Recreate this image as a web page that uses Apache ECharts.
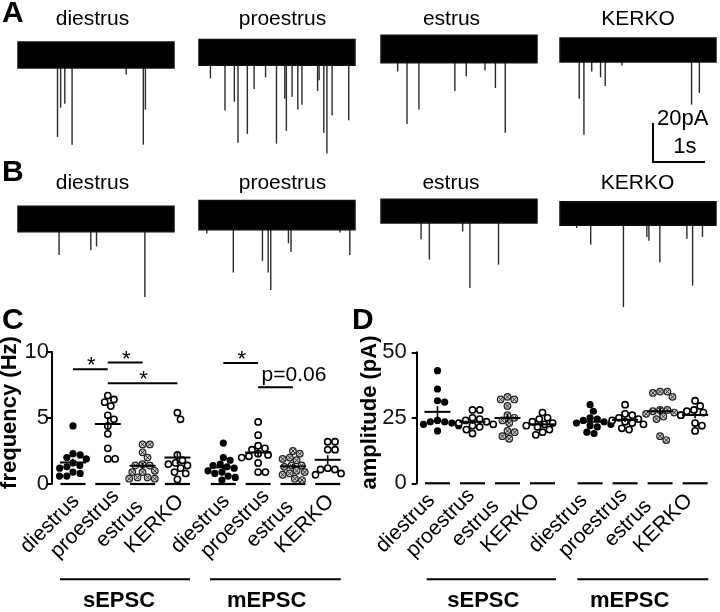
<!DOCTYPE html>
<html><head><meta charset="utf-8">
<script src="https://cdn.jsdelivr.net/npm/echarts@6/dist/echarts.min.js"></script>
<style>html,body{margin:0;padding:0;background:#fff}#c{width:720px;height:612px}</style>
</head><body><div id="c"></div><script>
const FONT = 'Liberation Sans, Arial, Helvetica, sans-serif';
const stages = ['diestrus', 'proestrus', 'estrus', 'KERKO'];
const groups = ['sEPSC', 'mEPSC'];

// ---- Traces: spikes as [time (s), amplitude (pA, inward)] ----
const spikesA_diestrus  = [[0.76,42],[0.82,27],[0.90,25],[1.04,46],[2.08,10],[2.41,46],[2.45,28]];
const spikesA_proestrus = [[0.22,13.5],[0.50,30],[0.68,25.5],[0.75,46.5],[0.93,42],[1.06,19],[1.28,13],[1.49,47],[1.65,24],[1.68,40.5],[1.79,23],[1.90,29.5],[1.98,27],[2.28,20],[2.31,14.5],[2.40,41.5],[2.46,52],[2.56,32.5],[2.88,35]];
const spikesA_estrus    = [[0.32,11.5],[0.50,38.5],[0.73,31],[1.42,21.5],[1.64,14],[2.00,11],[2.20,20],[2.39,43]];
const spikesA_KERKO     = [[0.37,25],[0.46,43.5],[0.61,11],[0.78,14],[0.87,18.5],[1.19,8],[2.53,28],[2.68,22]];
const spikesB_diestrus  = [[0.79,18.5],[1.40,16],[1.51,14],[2.44,40]];
const spikesB_proestrus = [[0.15,9.5],[0.66,29.5],[1.22,23.5],[1.33,29.5],[1.38,38.5],[1.72,14.5],[1.77,19],[2.71,9],[2.90,20.5]];
const spikesB_estrus    = [[0.77,14.5],[0.93,25],[1.57,10.5],[1.71,39.5],[2.26,27.5]];
const spikesB_KERKO     = [[0.32,7.5],[0.59,16],[1.22,48],[1.67,12],[1.71,14],[1.92,25],[2.44,13],[2.55,37],[2.74,12]];
// baseline noise band [above, below] in pA
const noiseA = [[6.7,6.7],[6.4,6.8],[7,7],[6.2,6.2]];
const noiseB = [[6.5,6.5],[7.5,7.5],[6,6.2],[6,6]];
const traceDuration = 3; // s
const scaleBarPA = 20, scaleBarS = 1;

// ---- Panel C: frequency (Hz) ----
const freqS_diestrus  = [4.4,2.3,2.2,2.0,1.9,1.6,1.4,1.3,1.2,0.9,0.8,0.6,0.6];
const freqS_proestrus = [6.7,6.4,6.2,5.9,5.2,4.9,4.4,3.8,2.7,1.9,1.9];
const freqS_estrus    = [3.0,3.0,2.4,2.0,1.5,1.4,1.4,1.0,0.9,0.9,0.5,0.4,0.4,0.5];
const freqS_KERKO     = [5.4,4.9,2.2,1.8,1.6,1.5,1.4,1.2,0.9,0.8,0.35];
const freqM_diestrus  = [3.1,2.0,1.8,1.5,1.4,1.3,1.2,1.0,0.9,0.8,0.6,0.5,0.3];
const freqM_proestrus = [4.7,3.7,2.9,2.7,2.6,2.3,2.2,2.1,2.0,1.6,0.9,0.9];
const freqM_estrus    = [2.5,2.3,2.0,1.9,1.8,1.4,1.4,1.3,1.0,0.9,0.8,0.7,0.4,0.3];
const freqM_KERKO     = [3.2,3.2,2.6,2.6,1.2,1.1,1.1,0.8,0.7];
// ---- Panel D: amplitude (pA) ----
const ampS_diestrus  = [43,36,31.5,31,24,23.5,23.5,23,22.5,22,20];
const ampS_proestrus = [28,28,25,24.5,24,23.5,23,22.5,22,21.5,20.5,19];
const ampS_estrus    = [33,32,32,29.5,26,25,24,23,20,19.5,18,17];
const ampS_KERKO     = [27,25,24.5,23.5,23,22.5,22,21.5,20.5,19.5,18.5];
const ampM_diestrus  = [30,27.5,25,24.5,24,23.5,23,22.5,22,21.5,19.5,19];
const ampM_proestrus = [30,26.5,26,25,24.5,24,23.5,23,22.5,21,20.5];
const ampM_estrus    = [35,35,34.5,33,28,28,27.5,27,26.5,26,25.5,24.5,18,16.5];
const ampM_KERKO     = [31.5,29.5,28,27.5,27,26,23,22,20];

const freqTicks = [0, 5, 10];
const ampTicks = [0, 25, 50];
// significance: [fromSlot, toSlot, heightHz, label]
const sigC = [[0,1,8.69,'*'],[1,2,9.2,'*'],[1,3,7.63,'*'],[4,5,9.17,'*'],[5,6,7.33,'p=0.06']];

// ================= layout =================
const PXS = 52, PXPA = 1.95;
const traceLeft = [18, 199, 381, 560];
const rowCenters = [[55,52,49,50],[219,215,211,213.5]];
const rowTitleY = [19.4, 183.4];
const titleX = [[92.5,282.5,451.5,638],[92.5,282.5,451,637.5]];
const traceSpikes = [[spikesA_diestrus,spikesA_proestrus,spikesA_estrus,spikesA_KERKO],[spikesB_diestrus,spikesB_proestrus,spikesB_estrus,spikesB_KERKO]];
const traceNoise = [noiseA, noiseB];

const panels = [
  {left:52, top:352, width:293, height:132, xMin:0.397, pxU:34.8, max:freqTicks[2], interval:5, margin:3, labDx:-23,
   slots:[1,2,3,4,5.32,6.32,7.32,8.32],
   data:[freqS_diestrus,freqS_proestrus,freqS_estrus,freqS_KERKO,freqM_diestrus,freqM_proestrus,freqM_estrus,freqM_KERKO]},
  {left:416.7, top:352.3, width:300, height:131, xMin:0.406, pxU:35, max:ampTicks[2], interval:25, margin:10, labDx:-32,
   slots:[1,2,3,4,5.36,6.36,7.36,8.36],
   data:[ampS_diestrus,ampS_proestrus,ampS_estrus,ampS_KERKO,ampM_diestrus,ampM_proestrus,ampM_estrus,ampM_KERKO]}
];
const kinds = ['filled','open','hatched','open'];

function swarm(values, pxPerVal, d) {
  const idx = values.map((v,i)=>i).sort((a,b)=>values[b]-values[a]);
  const placed = []; const off = new Array(values.length).fill(0);
  for (const i of idx) {
    const y = values[i]*pxPerVal;
    const cands = [0];
    for (const p of placed) { const dy = y-p.y; if (Math.abs(dy) < d) { const dx = Math.sqrt(d*d-dy*dy); cands.push(p.x+dx, p.x-dx); } }
    cands.sort((a,b)=>Math.abs(a)-Math.abs(b) || b-a);
    for (const c of cands) {
      if (placed.every(p => (c-p.x)*(c-p.x)+(y-p.y)*(y-p.y) >= d*d-1e-6)) { off[i]=c; placed.push({x:c,y}); break; }
    }
  }
  return off;
}
function marker(kind, cx, cy) {
  if (kind==='filled') return {type:'circle', shape:{cx,cy,r:3.6}, style:{fill:'#000'}};
  if (kind==='open') return {type:'circle', shape:{cx,cy,r:3.1}, style:{fill:'#fff', stroke:'#000', lineWidth:1.6}};
  const r=3.3, k=r*0.62;
  return {type:'group', children:[
    {type:'circle', shape:{cx,cy,r}, style:{fill:'#c8c8c8', stroke:'#222', lineWidth:1.2}},
    {type:'line', shape:{x1:cx-k,y1:cy-k,x2:cx+k,y2:cy+k}, style:{stroke:'#333', lineWidth:1}},
    {type:'line', shape:{x1:cx-k,y1:cy+k,x2:cx+k,y2:cy-k}, style:{stroke:'#333', lineWidth:1}}]};
}

const grid=[], xAxis=[], yAxis=[], series=[], graphic=[];
// ---- trace grids ----
for (let r=0;r<2;r++) for (let k=0;k<4;k++) {
  const gi = grid.length;
  grid.push({left:traceLeft[k], top:rowCenters[r][k]-15*PXPA, width:traceDuration*PXS, height:75*PXPA});
  xAxis.push({type:'value', gridIndex:gi, min:0, max:traceDuration, show:false});
  yAxis.push({type:'value', gridIndex:gi, min:-60, max:15, show:false});
  const nb = traceNoise[r][k];
  series.push({type:'custom', xAxisIndex:gi, yAxisIndex:gi, data:traceSpikes[r][k], silent:true,
    renderItem:(p,api)=>{ const t=api.value(0), a=api.value(1); const p0=api.coord([t,0]), p1=api.coord([t,-a]);
      return {type:'line', shape:{x1:p0[0],y1:p0[1],x2:p1[0],y2:p1[1]}, style:{stroke:'#2a2a2a', lineWidth:1.4}}; }});
  series.push({type:'custom', xAxisIndex:gi, yAxisIndex:gi, data:[[0,traceDuration,nb[0],nb[1]]], silent:true,
    renderItem:(p,api)=>{ const a=api.coord([api.value(0),api.value(2)]), b=api.coord([api.value(1),-api.value(3)]);
      return {type:'rect', shape:{x:a[0],y:a[1],width:b[0]-a[0],height:b[1]-a[1]}, style:{fill:'#000', stroke:'#111', lineWidth:1.5}}; }});
  graphic.push({type:'text', x:titleX[r][k], y:rowTitleY[r], style:{text:stages[k], font:`21px ${FONT}`, fill:'#000', align:'center', verticalAlign:'middle'}});
  if (r===0 && k===3) {
    series.push({type:'custom', xAxisIndex:gi, yAxisIndex:gi, data:[[1.788,-57.4]], silent:true,
      renderItem:(p,api)=>{ const t=api.value(0), y=api.value(1);
        const top=api.coord([t,y+scaleBarPA]), c=api.coord([t,y]), rt=api.coord([t+scaleBarS,y]);
        return {type:'group', children:[
          {type:'polyline', shape:{points:[top,c,rt]}, style:{stroke:'#000', lineWidth:2, fill:null}},
          {type:'text', x:top[0]+4, y:top[1]-4, style:{text:scaleBarPA+'pA', font:`22px ${FONT}`, fill:'#000', align:'left', verticalAlign:'middle'}},
          {type:'text', x:(c[0]+rt[0])/2+6, y:c[1]-14.5, style:{text:scaleBarS+'s', font:`22px ${FONT}`, fill:'#000', align:'center', verticalAlign:'middle'}}]}; }});
  }
}
// ---- scatter panels ----
panels.forEach((P, pi) => {
  const gi = grid.length;
  grid.push({left:P.left, top:P.top, width:P.width, height:P.height});
  xAxis.push({type:'value', gridIndex:gi, min:P.xMin, max:P.xMin+P.width/P.pxU, show:false});
  yAxis.push({type:'value', gridIndex:gi, min:0, max:P.max, interval:P.interval,
    axisLine:{show:true, lineStyle:{color:'#000', width:2}},
    axisTick:{show:true, length:5, lineStyle:{color:'#000', width:2}},
    axisLabel:{fontSize:22, fontFamily:FONT, color:'#111', margin:P.margin},
    splitLine:{show:false}});
  const pxPerVal = P.height/P.max;
  // zero segments & category labels
  series.push({type:'custom', xAxisIndex:gi, yAxisIndex:gi, silent:true,
    data:P.slots.map((s,i)=>[s,0,i]),
    renderItem:(p,api)=>{ const c=api.coord([api.value(0),0]); const i=api.value(2);
      return {type:'group', children:[
        {type:'line', shape:{x1:c[0]-12.5,y1:c[1],x2:c[0]+12.5,y2:c[1]}, style:{stroke:'#000', lineWidth:2.2}},
        {type:'text', x:c[0]+P.labDx, y:c[1]+40, rotation:Math.PI/4,
          style:{text:stages[i%4], font:`21px ${FONT}`, fill:'#000', align:'center', verticalAlign:'middle'}}]}; }});
  P.data.forEach((vals, i) => {
    const offs = swarm(vals, pxPerVal, 7.3);
    const kind = kinds[i%4];
    series.push({type:'custom', xAxisIndex:gi, yAxisIndex:gi, silent:true,
      data:vals.map((v,j)=>[P.slots[i], v, offs[j]]),
      renderItem:(p,api)=>{ const c=api.coord([api.value(0),api.value(1)]); return marker(kind, c[0]+api.value(2), c[1]); }});
    const n = vals.length, mean = vals.reduce((a,b)=>a+b,0)/n;
    const sd = Math.sqrt(vals.reduce((a,b)=>a+(b-mean)*(b-mean),0)/(n-1));
    const sem = sd/Math.sqrt(n);
    series.push({type:'custom', xAxisIndex:gi, yAxisIndex:gi, silent:true,
      data:[[P.slots[i], mean, sem]],
      renderItem:(p,api)=>{ const x=api.value(0), m=api.value(1), e=api.value(2);
        const c=api.coord([x,m]), lo=api.coord([x,m-e]), hi=api.coord([x,m+e]);
        return {type:'group', children:[
          {type:'line', shape:{x1:c[0]-13,y1:c[1],x2:c[0]+13,y2:c[1]}, style:{stroke:'#000', lineWidth:2}},
          {type:'line', shape:{x1:c[0],y1:lo[1],x2:c[0],y2:hi[1]}, style:{stroke:'#000', lineWidth:1.6}}]}; }});
  });
  if (pi===0) {
    series.push({type:'custom', xAxisIndex:gi, yAxisIndex:gi, silent:true,
      data:sigC.map(s=>[P.slots[s[0]], P.slots[s[1]], s[2], s[3]==='*'?0:1]),
      renderItem:(p,api)=>{ const a=api.coord([api.value(0),api.value(2)]), b=api.coord([api.value(1),api.value(2)]);
        const isStar = api.value(3)===0; const lab = sigC[p.dataIndex][3];
        const ch = [{type:'line', shape:{x1:a[0],y1:a[1],x2:b[0],y2:b[1]}, style:{stroke:'#000', lineWidth:2}}];
        if (isStar) ch.push({type:'text', x:(a[0]+b[0])/2+1, y:a[1]-3, style:{text:lab, font:`22px ${FONT}`, fill:'#000', align:'center', verticalAlign:'middle'}});
        else ch.push({type:'text', x:a[0]+3.5, y:a[1]-12.5, style:{text:lab, font:`21px ${FONT}`, fill:'#000', align:'left', verticalAlign:'middle'}});
        return {type:'group', children:ch}; }});
  }
});

// ---- annotations ----
const letters = [['A',2,14],['B',2,172.5],['C',2,321],['D',352,321]];
letters.forEach(l=>graphic.push({type:'text', x:l[1], y:l[2], style:{text:l[0], font:`bold 30px ${FONT}`, fill:'#000', align:'left', verticalAlign:'middle'}}));
graphic.push({type:'text', x:10, y:412.5, rotation:Math.PI/2, style:{text:'frequency (Hz)', font:`bold 22px ${FONT}`, fill:'#000', align:'center', verticalAlign:'middle'}});
graphic.push({type:'text', x:369.5, y:412.5, rotation:Math.PI/2, style:{text:'amplitude (pA)', font:`bold 22px ${FONT}`, fill:'#000', align:'center', verticalAlign:'middle'}});
const groupLines = [[60,190,119],[210,340.7,266.7],[426.7,556,483.3],[577.3,708.3,629.7]];
groupLines.forEach((g,i)=>{
  graphic.push({type:'line', shape:{x1:g[0],y1:579.3,x2:g[1],y2:579.3}, style:{stroke:'#000', lineWidth:2}});
  graphic.push({type:'text', x:g[2], y:600.7, style:{text:groups[i%2], font:`bold 22px ${FONT}`, fill:'#000', align:'center', verticalAlign:'middle'}});
});

const chart = echarts.init(document.getElementById('c'), null, {renderer:'canvas'});
chart.setOption({animation:false, backgroundColor:'#fff', grid, xAxis, yAxis, series, graphic});
</script></body></html>
